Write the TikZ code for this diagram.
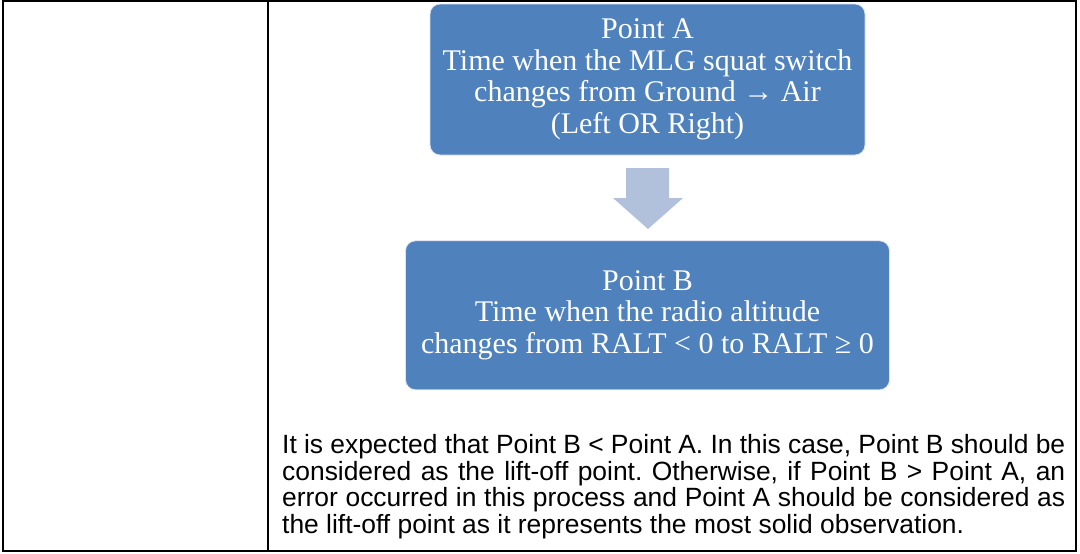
\documentclass[tikz,border=0pt]{standalone}
\usepackage{fontspec}
\setmainfont{Liberation Serif}
\newfontfamily\notefont{Liberation Sans}
\usetikzlibrary{positioning}
\definecolor{boxblue}{HTML}{4F81BD}
\definecolor{boxline}{HTML}{DCE4F0}
\definecolor{arrowblue}{HTML}{B1C1DC}

\begin{document}
\frenchspacing
\begin{tikzpicture}
  [x=1pt, y=-1pt,
   pointbox/.style={fill=boxblue, draw=boxline, line width=0.8pt, rounded corners=10pt,
     text=white, align=center, inner sep=0pt,
     font=\fontsize{30}{31.5}\selectfont},
   notetext/.style={text width=783pt, align=justify, inner sep=0pt,
     font=\notefont\fontsize{26.4}{26.7}\selectfont}]
  \useasboundingbox (0,0) rectangle (1080,554);

  % table frame
  \draw [line width=2pt] (3,1) rectangle (1076,551);
  \draw [line width=2pt] (268,1) -- (268,551);

  \node [name=ptA, pointbox, minimum width=435pt, minimum height=151pt] at (647.5,79.5)
    {Point A\\Time when the MLG squat switch\\changes from Ground → Air\\(Left OR Right)};
  \node [name=ptB, pointbox, minimum width=484pt, minimum height=149pt, below=85pt of ptA]
    {Point B\\Time when the radio altitude\\changes from RALT < 0 to RALT ≥ 0};

  % block arrow between the two boxes
  \fill [arrowblue] (626,168) -- (669,168) -- (669,198) -- (683,198) -- (648,229)
    -- (613,198) -- (626,198) -- cycle;

  \node [name=note, notetext, anchor=north west] at (282,434)
    {It is expected that Point B < Point A. In this case, Point B should be\linebreak
     considered as the lift-off point. Otherwise, if Point B > Point A, an\linebreak
     error occurred in this process and Point A should be considered as\linebreak
     the lift-off point as it represents the most solid observation.};
\end{tikzpicture}
\end{document}
